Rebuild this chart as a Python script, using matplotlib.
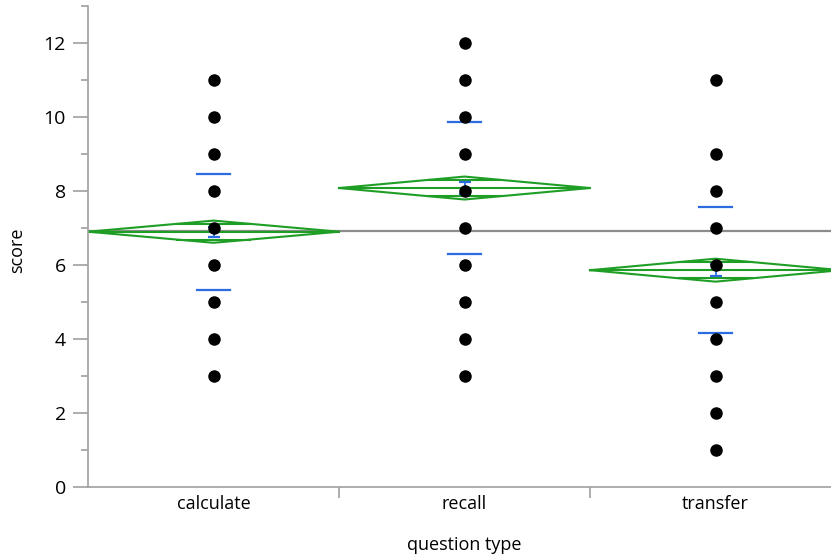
import numpy as np
import matplotlib.pyplot as plt
from matplotlib.ticker import MultipleLocator

groups = ["calculate", "recall", "transfer"]
calculate_scores = [3, 4, 5, 6, 7, 8, 9, 10, 11]
recall_scores = [3, 4, 5, 6, 7, 8, 9, 10, 11, 12]
transfer_scores = [1, 2, 3, 4, 5, 6, 7, 8, 9, 11]
group_means = [6.90, 8.08, 5.86]
ci_half = [0.30, 0.31, 0.31]
group_sd = [1.57, 1.78, 1.71]
group_se = [0.14, 0.16, 0.16]
grand_mean = 6.92

GREEN = "#1f9e26"
BLUE = "#2b6de0"

plt.rcParams["font.family"] = ["Open Sans", "DejaVu Sans"]

fig = plt.figure(figsize=(8.31, 5.58), dpi=100)
ax = fig.add_axes([88 / 831, 71 / 558, (841 - 88) / 831, (487 - 6) / 558])

ax.axhline(grand_mean, color="#8c8c8c", lw=1.6, zorder=1)

scores = [calculate_scores, recall_scores, transfer_scores]
for i, (m, h, sd, se, pts) in enumerate(zip(group_means, ci_half, group_sd, group_se, scores)):
    c = i + 0.5
    # means diamond with overlap marks
    ax.plot([i, c, i + 1, c, i], [m, m + h, m, m - h, m], color=GREEN, lw=1.5, zorder=2)
    ax.plot([i, i + 1], [m, m], color=GREEN, lw=1.5, zorder=2)
    d = 0.5 * (1 - 1 / np.sqrt(2))
    for s in (1, -1):
        ax.plot([c - d, c + d], [m + s * h / np.sqrt(2)] * 2, color=GREEN, lw=1.5, zorder=2)
    # std dev lines
    for s in (1, -1):
        ax.plot([c - 0.064, c + 0.064], [m + s * sd] * 2, color=BLUE, lw=1.6, zorder=3)
    # std error bar
    ax.errorbar([c], [m], yerr=[se], color=BLUE, lw=1.3, capsize=4.5, capthick=1.6, zorder=3)
    ax.plot([c] * len(pts), pts, "o", color="black", ms=8, zorder=4)

ax.set_xlim(0, 3)
ax.set_ylim(0, 13)
ax.set_xticks([1, 2])
ax.set_xticklabels([])
ax.set_xticks([0.5, 1.5, 2.5], minor=True)
ax.set_xticklabels(groups, minor=True, fontsize=13)
ax.tick_params(axis="x", which="major", length=8, width=1.2, color="#a0a0a0", direction="out")
ax.tick_params(axis="x", which="minor", length=0, pad=6)
ax.yaxis.set_major_locator(MultipleLocator(2))
ax.yaxis.set_minor_locator(MultipleLocator(1))
ax.tick_params(axis="y", which="major", length=11, width=1.2, color="#a0a0a0", labelsize=14, pad=5)
ax.tick_params(axis="y", which="minor", length=5, width=1.2, color="#a0a0a0")

for side in ("top", "right"):
    ax.spines[side].set_visible(False)
for side in ("left", "bottom"):
    ax.spines[side].set_color("#a0a0a0")
    ax.spines[side].set_linewidth(1.2)

ax.set_xlabel("question type", fontsize=13)
ax.xaxis.set_label_coords((464 - 88) / 753, -0.102)
ax.set_ylabel("score", fontsize=13)
ax.yaxis.set_label_coords(-0.082, (487 - 250) / 481)

fig.savefig("out.png", dpi=100)
